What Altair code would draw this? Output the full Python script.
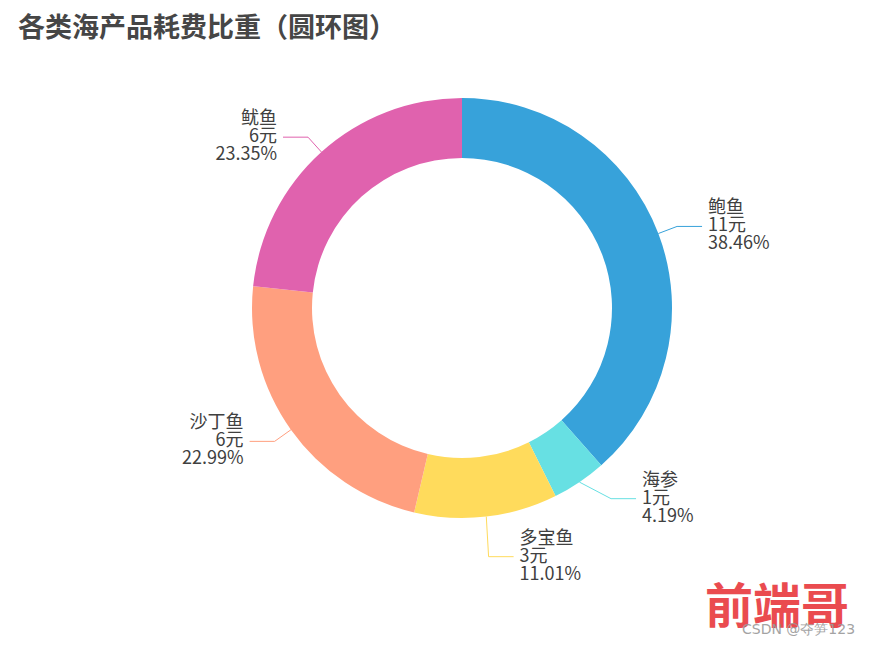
import math
import numpy as np
import pandas as pd
import altair as alt

# ---------------- data ----------------
TITLE = "各类海产品耗费比重（圆环图）"
names = ["鲍鱼", "海参", "多宝鱼", "沙丁鱼", "鱿鱼"]
amounts = [11, 1, 3, 6, 6]
percents = [38.46, 4.19, 11.01, 22.99, 23.35]
colors = ["#37a2da", "#67e0e3", "#ffdb5c", "#ff9f7f", "#e062ae"]
WATERMARK = "前端哥"
CREDIT = "CSDN @夺笋123"

# ---------------- layout constants ----------------
W, H = 870, 647
CX, CY = 462, 308
R_OUT, R_IN = 210, 150
LEN1, LEN2, GAP = 20, 25, 6
FONT = "Noto Sans CJK SC"
FS = 18
LINE_H = 18
LABEL_H = 3 * LINE_H + 4

# ---------------- label layout (echarts-like) ----------------
total = sum(percents)
cum = np.cumsum([0.0] + percents)
items = []
for i, n in enumerate(names):
    mid = (cum[i] + cum[i + 1]) / 2 / total * 2 * math.pi
    dx, dy = math.sin(mid), -math.cos(mid)
    d = 1 if dx >= 0 else -1
    x1, y1 = CX + R_OUT * dx, CY + R_OUT * dy
    ex, ey = CX + (R_OUT + LEN1) * dx, CY + (R_OUT + LEN1) * dy
    items.append(dict(i=i, name=n, dir=d, x1=x1, y1=y1, ex=ex, ey=ey, ly=ey))

for side in (1, -1):
    lst = sorted([it for it in items if it["dir"] == side], key=lambda t: t["ly"])
    shifted = False
    for k in range(1, len(lst)):
        if lst[k]["ly"] < lst[k - 1]["ly"] + LABEL_H:
            lst[k]["ly"] = lst[k - 1]["ly"] + LABEL_H
            shifted = True
    if shifted:
        rA = R_OUT + LEN1
        for semi in ([t for t in lst if t["ly"] > CY], [t for t in lst if t["ly"] <= CY]):
            if not semi:
                continue
            far = max(semi, key=lambda t: abs(t["ly"] - CY))
            dxo = abs(far["ex"] - CX)
            dyo = abs(far["ly"] - CY)
            rB = math.sqrt(dyo * dyo / (1 - dxo * dxo / rA / rA)) if dxo < rA else rA
            for t in semi:
                dyy = abs(t["ly"] - CY)
                t["ex"] = CX + math.sqrt(max(0.0, 1 - dyy * dyy / rB / rB)) * rA * side

line_rows, text_rows = [], []
for it in items:
    d = it["dir"]
    ex, ly = it["ex"], it["ly"]
    pts = [(it["x1"], it["y1"]), (ex, ly), (ex + d * LEN2, ly)]
    for s, (px, py) in enumerate(pts):
        line_rows.append(dict(name=it["name"], seq=s, px=px, py=py))
    i = it["i"]
    text_rows.append(dict(
        name=it["name"], side="right" if d > 0 else "left",
        tx=ex + d * (LEN2 + GAP), ty=ly,
        label=f"{names[i]}\n{amounts[i]}元\n{percents[i]:.2f}%",
    ))

slices = pd.DataFrame({"name": names, "value": percents, "idx": list(range(len(names)))})
lines = pd.DataFrame(line_rows)
texts = pd.DataFrame(text_rows)

color = alt.Color("name:N", scale=alt.Scale(domain=names, range=colors), legend=None)

arcs = alt.Chart(slices).mark_arc(radius=R_OUT, radius2=R_IN).encode(
    theta=alt.Theta("value:Q", stack=True),
    order=alt.Order("idx:Q"),
    color=color,
    x=alt.value(CX),
    y=alt.value(CY),
)

leaders = alt.Chart(lines).mark_line(strokeWidth=1).encode(
    x=alt.X("px:Q", scale=None, axis=None),
    y=alt.Y("py:Q", scale=None, axis=None),
    color=color,
    detail="name:N",
    order="seq:Q",
)

def label_layer(side, align):
    return alt.Chart(texts).transform_filter(alt.datum.side == side).mark_text(
        align=align, baseline="middle", lineBreak="\n", font=FONT,
        fontSize=FS, lineHeight=LINE_H, color="#404040", dy=-LINE_H,
    ).encode(
        x=alt.X("tx:Q", scale=None, axis=None),
        y=alt.Y("ty:Q", scale=None, axis=None),
        text="label:N",
    )

title = alt.Chart(pd.DataFrame({"t": [TITLE]})).mark_text(
    align="left", baseline="middle", font=FONT, fontSize=27,
    fontWeight="bold", color="#464646",
).encode(x=alt.value(18), y=alt.value(29), text="t:N")

wm = alt.Chart(pd.DataFrame({"t": [WATERMARK]})).mark_text(
    align="center", baseline="middle", font=FONT, fontSize=48,
    fontWeight="bold", color="#e8383d", opacity=0.9,
).encode(x=alt.value(777), y=alt.value(609), text="t:N")

credit = alt.Chart(pd.DataFrame({"t": [CREDIT]})).mark_text(
    align="left", baseline="middle", font="DejaVu Sans", fontSize=14,
    color="#9a9a9a", opacity=0.9,
).encode(x=alt.value(742), y=alt.value(630), text="t:N")

chart = alt.layer(
    arcs, leaders, label_layer("right", "left"), label_layer("left", "right"),
    title, wm, credit,
).properties(
    width=W, height=H, padding=0, autosize="none",
).configure_view(stroke=None)

chart.save("out.html", embed_options={"renderer": "svg", "actions": False})
